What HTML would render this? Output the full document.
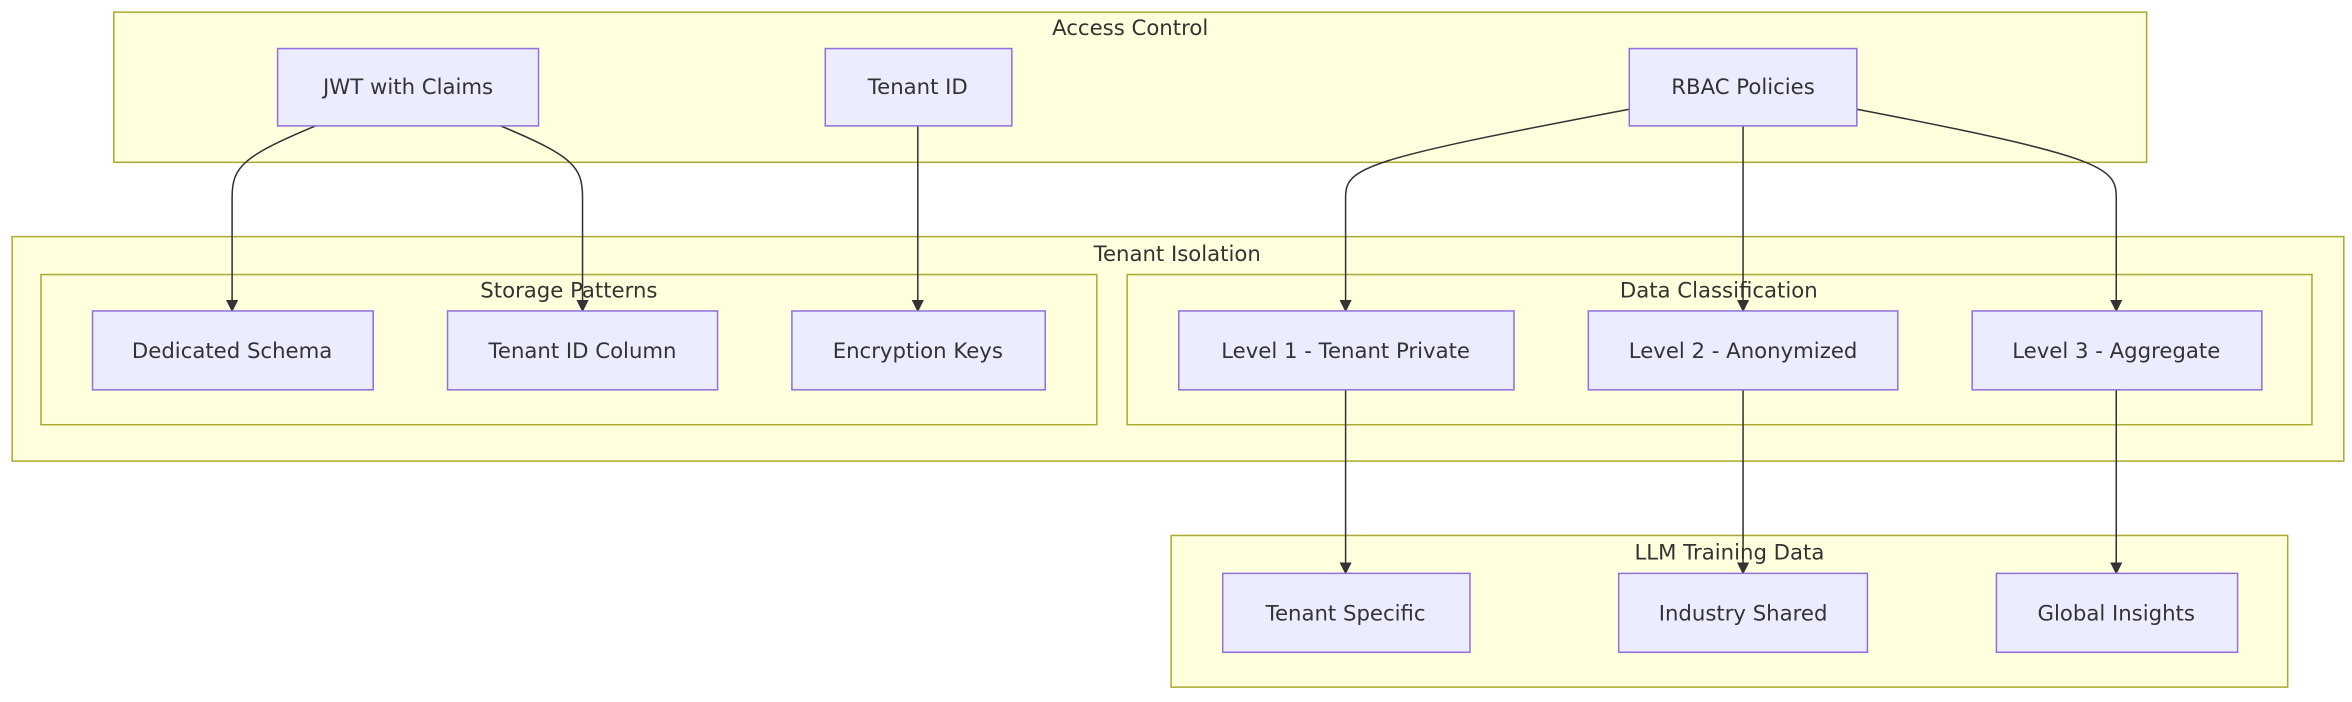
<!DOCTYPE html>
<html><head><style>html,body{margin:0;padding:0;background:#fff;}svg{display:block}</style></head>
<body>
<svg width="2352" height="702" viewBox="0 0 1550.4 462.8" preserveAspectRatio="none" xmlns="http://www.w3.org/2000/svg" font-family="'DejaVu Sans','Liberation Sans',sans-serif" font-size="14" fill="#333">
<defs><marker id="a" viewBox="0 0 10 10" refX="9" refY="5" markerWidth="8" markerHeight="8" orient="auto-start-reverse" markerUnits="userSpaceOnUse"><path d="M0,0L10,5L0,10z" fill="#333"/></marker></defs>
<g fill="#ffffde" stroke="#aaaa33" stroke-width="1">
<rect x="75" y="8" width="1340" height="99"/>
<rect x="8" y="156" width="1537" height="148"/>
<rect x="27" y="181" width="696" height="99"/>
<rect x="743" y="181" width="781" height="99"/>
<rect x="772" y="353" width="736" height="100"/>
</g>
<g text-anchor="middle">
<text x="745" y="23">Access Control</text>
<text x="776" y="172">Tenant Isolation</text>
<text x="375" y="196">Storage Patterns</text>
<text x="1133" y="196">Data Classification</text>
<text x="1140" y="369">LLM Training Data</text>
</g>
<g fill="none" stroke="#333" stroke-width="1" marker-end="url(#a)">
<path d="M208,83 C160,103 153,110 153,130 L153,205"/>
<path d="M330,83 C378,103 384,110 384,130 L384,205"/>
<path d="M605,83 L605,205"/>
<path d="M1074,72 C900,105 887,110 887,130 L887,205"/>
<path d="M1149,83 L1149,205"/>
<path d="M1224,72 C1385,103 1395,110 1395,130 L1395,205"/>
<path d="M887,257 L887,378"/>
<path d="M1149,257 L1149,378"/>
<path d="M1395,257 L1395,378"/>
</g>
<g fill="#ececff" stroke="#9370db" stroke-width="1">
<rect x="183" y="32" width="172" height="51"/>
<rect x="544" y="32" width="123" height="51"/>
<rect x="1074" y="32" width="150" height="51"/>
<rect x="61" y="205" width="185" height="52"/>
<rect x="295" y="205" width="178" height="52"/>
<rect x="522" y="205" width="167" height="52"/>
<rect x="777" y="205" width="221" height="52"/>
<rect x="1047" y="205" width="204" height="52"/>
<rect x="1300" y="205" width="191" height="52"/>
<rect x="806" y="378" width="163" height="52"/>
<rect x="1067" y="378" width="164" height="52"/>
<rect x="1316" y="378" width="159" height="52"/>
</g>
<g text-anchor="middle">
<text x="269" y="62">JWT with Claims</text>
<text x="605" y="62">Tenant ID</text>
<text x="1149" y="62">RBAC Policies</text>
<text x="153" y="236">Dedicated Schema</text>
<text x="384" y="236">Tenant ID Column</text>
<text x="605" y="236">Encryption Keys</text>
<text x="887" y="236">Level 1 - Tenant Private</text>
<text x="1149" y="236">Level 2 - Anonymized</text>
<text x="1395" y="236">Level 3 - Aggregate</text>
<text x="887" y="409">Tenant Specific</text>
<text x="1149" y="409">Industry Shared</text>
<text x="1395" y="409">Global Insights</text>
</g>
</svg>
</body></html>
